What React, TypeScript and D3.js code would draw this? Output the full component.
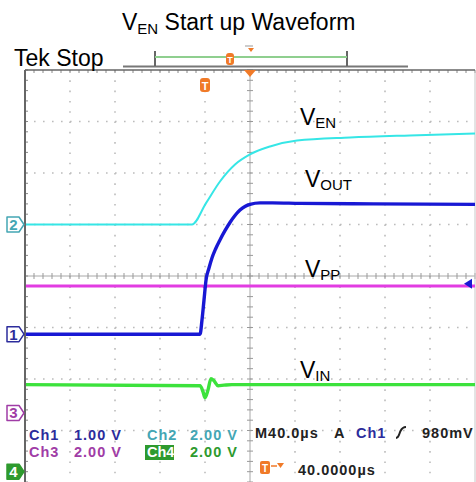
import React from 'react';
import * as d3 from 'd3';

// scope screen geometry
const width = 476;
const height = 482;
const screen = { left: 25, right: 475, top: 70, bottom: 482 };

// horizontal: 40 µs/div, 10 divisions, trigger 40 µs left of centre
const timeDomain = [-160, 240];
const divDomain = [-4, 4];

// channel setup
const channelNames = ['Ch1', 'Ch2', 'Ch3', 'Ch4'];
const voltsPerDiv = [1, 2, 2, 2];
const groundDiv = [-1.13, 1.0, -2.66, -3.8];
const traceColors = ['#1818d4', '#36e6e6', '#e23ce2', '#3ce23c'];
const textColors = ['#2c2c9c', '#44a6b4', '#a03ca6', '#2e9a2e'];
const strokeWidths = [3.4, 2, 3, 3.4];

// Ch1 = VOUT
const ch1Time = [-160, -4.4, -2.7, -0.9, 0.9, 3.5, 6.2, 9.5, 13.3, 17.5, 22.2, 26.5, 31.1, 35.5, 40, 48.9, 60, 84.4, 150, 240];
const ch1Volts = [0, 0, 0.27, 0.66, 1.05, 1.28, 1.48, 1.66, 1.83, 2.0, 2.17, 2.3, 2.41, 2.48, 2.52, 2.55, 2.55, 2.54, 2.53, 2.52];
// Ch2 = VEN
const ch2Time = [-160, -11.6, 0.9, 13.3, 26.7, 40, 57.8, 81.8, 128.9, 182, 240];
const ch2Volts = [0, 0, 0.83, 1.67, 2.33, 2.72, 3.03, 3.26, 3.38, 3.46, 3.53];
// Ch3 = VPP
const ch3Time = [-160, -2, 0, 2, 240];
const ch3Volts = [4.93, 4.93, 4.88, 4.93, 4.93];
// Ch4 = VIN
const ch4Time = [-160, -4.4, -1.8, 0, 2.7, 5.3, 8, 11.6, 16.9, 24, 240];
const ch4Volts = [3.38, 3.34, 3.11, 2.87, 3.18, 3.61, 3.53, 3.34, 3.36, 3.38, 3.38];

const channelTimes = [ch1Time, ch2Time, ch3Time, ch4Time];
const channelVolts = [ch1Volts, ch2Volts, ch3Volts, ch4Volts];
const drawOrder = [2, 3, 1, 0];

const triggerLevel = 0.98; // V on Ch1
const triggerOffset = 40; // µs
const timePerDiv = 40; // µs

const traceLabels = [
  { main: 'V', sub: 'EN', x: 300, y: 125 },
  { main: 'V', sub: 'OUT', x: 305, y: 187 },
  { main: 'V', sub: 'PP', x: 305, y: 277 },
  { main: 'V', sub: 'IN', x: 300, y: 378 },
];

const sans = '"Liberation Sans", Arial, sans-serif';

const App: React.FC = () => {
  const x = d3.scaleLinear().domain(timeDomain).range([screen.left, screen.right]);
  const y = d3.scaleLinear().domain(divDomain).range([screen.bottom, screen.top]);

  const vToY = (ch: number, v: number) => y(v / voltsPerDiv[ch] + groundDiv[ch]);

  const line = (ch: number) =>
    d3.line<number>()
      .x((_, i) => x(channelTimes[ch][i]))
      .y((v) => vToY(ch, v))
      .curve(d3.curveMonotoneX)(channelVolts[ch]) ?? '';

  const divX = d3.range(0, 11).map((i) => screen.left + (i * (screen.right - screen.left)) / 10);
  const divY = d3.range(0, 9).map((j) => screen.top + (j * (screen.bottom - screen.top)) / 8);
  const dx = (screen.right - screen.left) / 10;
  const dy = (screen.bottom - screen.top) / 8;
  const cx = divX[5];
  const cy = divY[4];
  const minorX = d3.range(0, 51).map((i) => screen.left + (i * dx) / 5);
  const minorY = d3.range(0, 41).map((j) => screen.top + (j * dy) / 5);

  const trigX = x(0);
  const trigLevelY = vToY(0, triggerLevel);

  return (
    <svg width={width} height={height} style={{ position: 'absolute', left: 0, top: 0, background: '#fff' }}>
      <rect width={width} height={height} fill="#fff" />

      {/* title */}
      <text x={122} y={30} fontFamily={sans} fontSize={23} fill="#000">
        V<tspan fontSize={15} dy={4}>EN</tspan>
        <tspan dy={-4}> Start up Waveform</tspan>
      </text>

      {/* dotted graticule */}
      {divX.slice(1, 10).filter((_, i) => i !== 4).map((gx) => (
        <line key={'gv' + gx} x1={gx} x2={gx} y1={screen.top} y2={screen.bottom}
          stroke="#bcbcbc" strokeWidth={1.6} strokeDasharray={`1.6 ${dy / 5 - 1.6}`} />
      ))}
      {divY.slice(1, 8).filter((_, j) => j !== 3).map((gy) => (
        <line key={'gh' + gy} x1={screen.left} x2={screen.right} y1={gy} y2={gy}
          stroke="#bcbcbc" strokeWidth={1.6} strokeDasharray={`1.6 ${dx / 5 - 1.6}`} />
      ))}

      {/* centre cross with minor ticks */}
      <line x1={cx} x2={cx} y1={screen.top} y2={screen.bottom} stroke="#a8a8a8" strokeWidth={1} />
      <line x1={screen.left} x2={screen.right} y1={cy} y2={cy} stroke="#a8a8a8" strokeWidth={1} />
      {minorY.map((my) => (
        <line key={'cvt' + my} x1={cx - 3} x2={cx + 3} y1={my} y2={my} stroke="#999" strokeWidth={1} />
      ))}
      {minorX.map((mx) => (
        <line key={'cht' + mx} x1={mx} x2={mx} y1={cy - 3} y2={cy + 3} stroke="#999" strokeWidth={1} />
      ))}

      {/* border ticks */}
      {minorX.map((mx) => (
        <line key={'tt' + mx} x1={mx} x2={mx} y1={screen.top} y2={screen.top + 3} stroke="#888" strokeWidth={1} />
      ))}
      {minorY.map((my) => (
        <line key={'lt' + my} x1={screen.left} x2={screen.left + 3} y1={my} y2={my} stroke="#888" strokeWidth={1} />
      ))}
      <line x1={screen.right} x2={screen.right} y1={screen.top} y2={screen.bottom} stroke="#c8c8c8" strokeWidth={1} />

      {/* traces */}
      {drawOrder.map((ch) => (
        <path key={'tr' + ch} d={line(ch)} fill="none" stroke={traceColors[ch]}
          strokeWidth={strokeWidths[ch]} strokeLinejoin="round" />
      ))}

      {/* borders */}
      <line x1={screen.left} x2={screen.right} y1={screen.top} y2={screen.top} stroke="#666" strokeWidth={1.5} />
      <line x1={screen.left} x2={screen.left} y1={screen.top} y2={screen.bottom} stroke="#666" strokeWidth={2} />

      {/* top record bar */}
      <line x1={123} x2={408} y1={66.5} y2={66.5} stroke="#777" strokeWidth={2} />
      <path d="M155,51 V66 M347,51 V66" stroke="#666" strokeWidth={2} fill="none" />
      <line x1={155} x2={347} y1={57} y2={57} stroke="#8fcf8f" strokeWidth={2} />
      <rect x={226} y={53} width={8} height={12} rx={3} fill="#f07a28" />
      <text x={230} y={63} textAnchor="middle" fontFamily={sans} fontSize={9} fontWeight="bold" fill="#fff">T</text>
      <line x1={245} x2={253} y1={46} y2={46} stroke="#999" strokeWidth={1} />
      <path d="M248,48 L254,48 L251,52 Z" fill="#f07a28" />

      {/* expansion point and trigger markers */}
      <path d={`M${cx - 6},70 L${cx + 6},70 L${cx},77 Z`} fill="#f07a28" />
      <rect x={trigX - 5} y={78} width={10} height={14} rx={3} fill="#f07a28" />
      <text x={trigX} y={89.5} textAnchor="middle" fontFamily={sans} fontSize={11} fontWeight="bold" fill="#fff">T</text>
      <path d={`M${screen.right - 3},${trigLevelY - 5} L${screen.right - 11},${trigLevelY} L${screen.right - 3},${trigLevelY + 5} Z`}
        fill={traceColors[0]} />

      {/* Tek Stop */}
      <text x={14} y={66} fontFamily={sans} fontSize={23} fill="#000">Tek Stop</text>

      {/* channel ground markers */}
      {channelNames.map((name, ch) => {
        const gy = y(groundDiv[ch]);
        const filled = ch === 3;
        return (
          <g key={'gm' + name}>
            <path d={`M7,${gy - 7.5} H19 L24,${gy} L19,${gy + 7.5} H7 Z`}
              fill={filled ? textColors[3] : '#fff'} stroke={textColors[ch]} strokeWidth={1.5} strokeLinejoin="round" />
            <text x={13.5} y={gy + 5.5} textAnchor="middle" fontFamily={sans} fontSize={15} fontWeight="bold"
              fill={filled ? '#fff' : textColors[ch]}>{ch + 1}</text>
          </g>
        );
      })}

      {/* trace labels */}
      {traceLabels.map((l) => (
        <text key={l.sub} x={l.x} y={l.y} fontFamily={sans} fontSize={23} fill="#000">
          {l.main}<tspan fontSize={15} dy={3}>{l.sub}</tspan>
        </text>
      ))}

      {/* readouts */}
      <g fontFamily={sans} fontSize={14.5} fontWeight="bold" letterSpacing={1}>
        <text x={29} y={440} fill={textColors[0]}>{channelNames[0]}</text>
        <text x={74} y={440} fill={textColors[0]}>{voltsPerDiv[0].toFixed(2)} V</text>
        <text x={147} y={440} fill={textColors[1]}>{channelNames[1]}</text>
        <text x={190} y={440} fill={textColors[1]}>{voltsPerDiv[1].toFixed(2)} V</text>
        <text x={29} y={457} fill={textColors[2]}>{channelNames[2]}</text>
        <text x={74} y={457} fill={textColors[2]}>{voltsPerDiv[2].toFixed(2)} V</text>
        <rect x={145} y={445} width={29} height={15} fill="#2e9a2e" />
        <text x={147} y={457} fill="#fff" letterSpacing={0}>{channelNames[3]}</text>
        <text x={190} y={457} fill={textColors[3]}>{voltsPerDiv[3].toFixed(2)} V</text>

        <text x={255} y={438} fill="#222">M{timePerDiv.toFixed(1)}µs</text>
        <text x={334} y={438} fill="#222">A</text>
        <text x={356} y={438} fill={textColors[0]}>{channelNames[0]}</text>
        <text x={422} y={438} fill="#222">{Math.round(triggerLevel * 1000)}mV</text>
        <text x={298} y={475} fill="#222">{triggerOffset.toFixed(4)}µs</text>
      </g>
      <path d="M396,438 C399,438 399,434 400.5,431 C402,428 403,427 406,427" fill="none" stroke="#222" strokeWidth={2} />
      <rect x={260} y={461} width={10} height={13} rx={2} fill="#f07a28" />
      <text x={265} y={471.5} textAnchor="middle" fontFamily={sans} fontSize={10} fontWeight="bold" fill="#fff">T</text>
      <line x1={271} x2={277} y1={466} y2={466} stroke="#f07a28" strokeWidth={1.5} />
      <path d="M277,463 L284,463 L280.5,468 Z" fill="#f07a28" />
    </svg>
  );
};

export default App;
